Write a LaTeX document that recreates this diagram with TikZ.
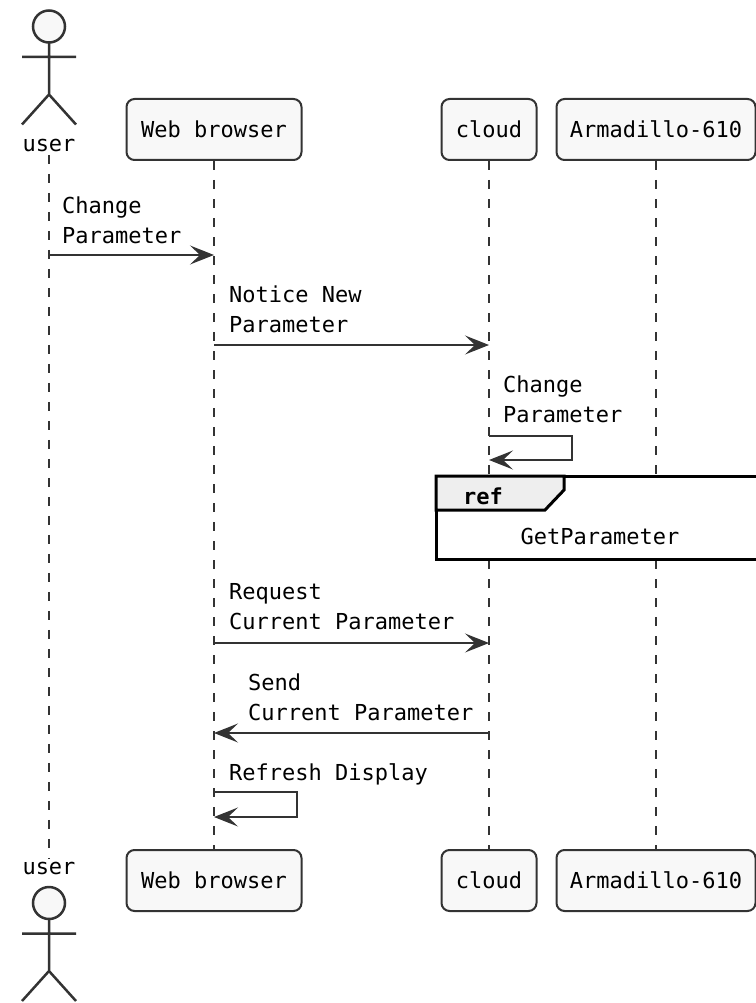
\documentclass[tikz,border=0pt]{standalone}
\usepackage{fontspec}
\setmonofont{DejaVu Sans Mono}
\usetikzlibrary{arrows.meta,positioning}
\definecolor{umlline}{HTML}{333333}
\definecolor{umlfill}{HTML}{F8F8F8}
\definecolor{reffill}{HTML}{EEEEEE}
\tikzset{
	participant/.style={draw=umlline, fill=umlfill, line width=2pt, rounded corners=8pt,
		minimum height=61pt, inner sep=0pt, font=\ttfamily\fontsize{22}{26}\selectfont},
	lifeline/.style={umlline, line width=1.3pt, dash pattern=on 9pt off 10pt},
	msg/.style={umlline, line width=1.2pt, -{Stealth[length=24pt,width=19pt,inset=10pt]}},
	msglabel/.style={anchor=south west, inner sep=0pt, text depth=0pt, align=left,
		font=\ttfamily\fontsize{22}{30}\selectfont},
	actor/.style={umlline, line width=2.5pt}
}
\begin{document}
\begin{tikzpicture}[x=1pt, y=-1pt]
	\useasboundingbox (0,0) rectangle (755,1003);
	%actors
	\foreach \hy in {26.5,903}
	{
		\draw[actor, fill=umlfill] (49,\hy) circle (16pt);
		\draw[actor] (49,\hy+16) -- (49,\hy+68)
		(22,\hy+30.5) -- (76,\hy+30.5)
		(22,\hy+98) -- (49,\hy+68) -- (76,\hy+98);
	}
	\node[font=\ttfamily\fontsize{22}{26}\selectfont] (usertop) at (49,145) {user};
	\node[font=\ttfamily\fontsize{22}{26}\selectfont] (userbot) at (49,868) {user};
	%participants
	\node[participant, minimum width=175pt] (browsertop) at (214,129.5) {Web browser};
	\node[participant, minimum width=95pt] (cloudtop) at (489,129.5) {cloud};
	\node[participant, minimum width=199pt] (armtop) at (656,129.5) {Armadillo-610};
	\node[participant, minimum width=175pt] (browserbot) at (214,880.5) {Web browser};
	\node[participant, minimum width=95pt] (cloudbot) at (489,880.5) {cloud};
	\node[participant, minimum width=199pt] (armbot) at (656,880.5) {Armadillo-610};
	%lifelines
	\draw[lifeline] (usertop) -- (userbot);
	\draw[lifeline] (browsertop) -- (browserbot);
	\draw[lifeline] (cloudtop) -- (cloudbot);
	\draw[lifeline] (armtop) -- (armbot);
	%messages
	\coordinate (m1) at (0,255);
	\coordinate (m2) at (0,345);
	\coordinate (m3) at (0,436);
	\coordinate (m3b) at (0,460);
	\coordinate (m5) at (0,643);
	\coordinate (m6) at (0,733);
	\coordinate (m7) at (0,792);
	\coordinate (m7b) at (0,817);
	\draw[msg] (usertop |- m1) -- (browsertop |- m1);
	\node[msglabel] (l1) at (62,244) {Change\\Parameter};
	\draw[msg] (browsertop |- m2) -- (cloudtop |- m2);
	\node[msglabel] (l2) at (229,333) {Notice New\\Parameter};
	\draw[msg] (cloudtop |- m3) -- ++(83,0) -- ++(0,24) -- (cloudtop |- m3b);
	\node[msglabel] (l3) at (503,423) {Change\\Parameter};
	%ref
	\draw[line width=3pt, fill=white] (436,476) rectangle (758,559);
	\draw[line width=3pt, fill=reffill] (436,476) -- (564,476) -- (564,490)
	-- (545,510) -- (436,510) -- cycle;
	\node[font=\ttfamily\bfseries\fontsize{22}{26}\selectfont] (reftag) at (483,496) {ref};
	\node[font=\ttfamily\fontsize{22}{26}\selectfont] (refname) at (600,536) {GetParameter};
	\draw[msg] (browsertop |- m5) -- (cloudtop |- m5);
	\node[msglabel] (l5) at (229,630) {Request\\Current Parameter};
	\draw[msg] (cloudtop |- m6) -- (browsertop |- m6);
	\node[msglabel] (l6) at (248,721) {Send\\Current Parameter};
	\draw[msg] (browsertop |- m7) -- ++(83,0) -- ++(0,25) -- (browsertop |- m7b);
	\node[msglabel] (l7) at (229,781) {Refresh Display};
\end{tikzpicture}
\end{document}
